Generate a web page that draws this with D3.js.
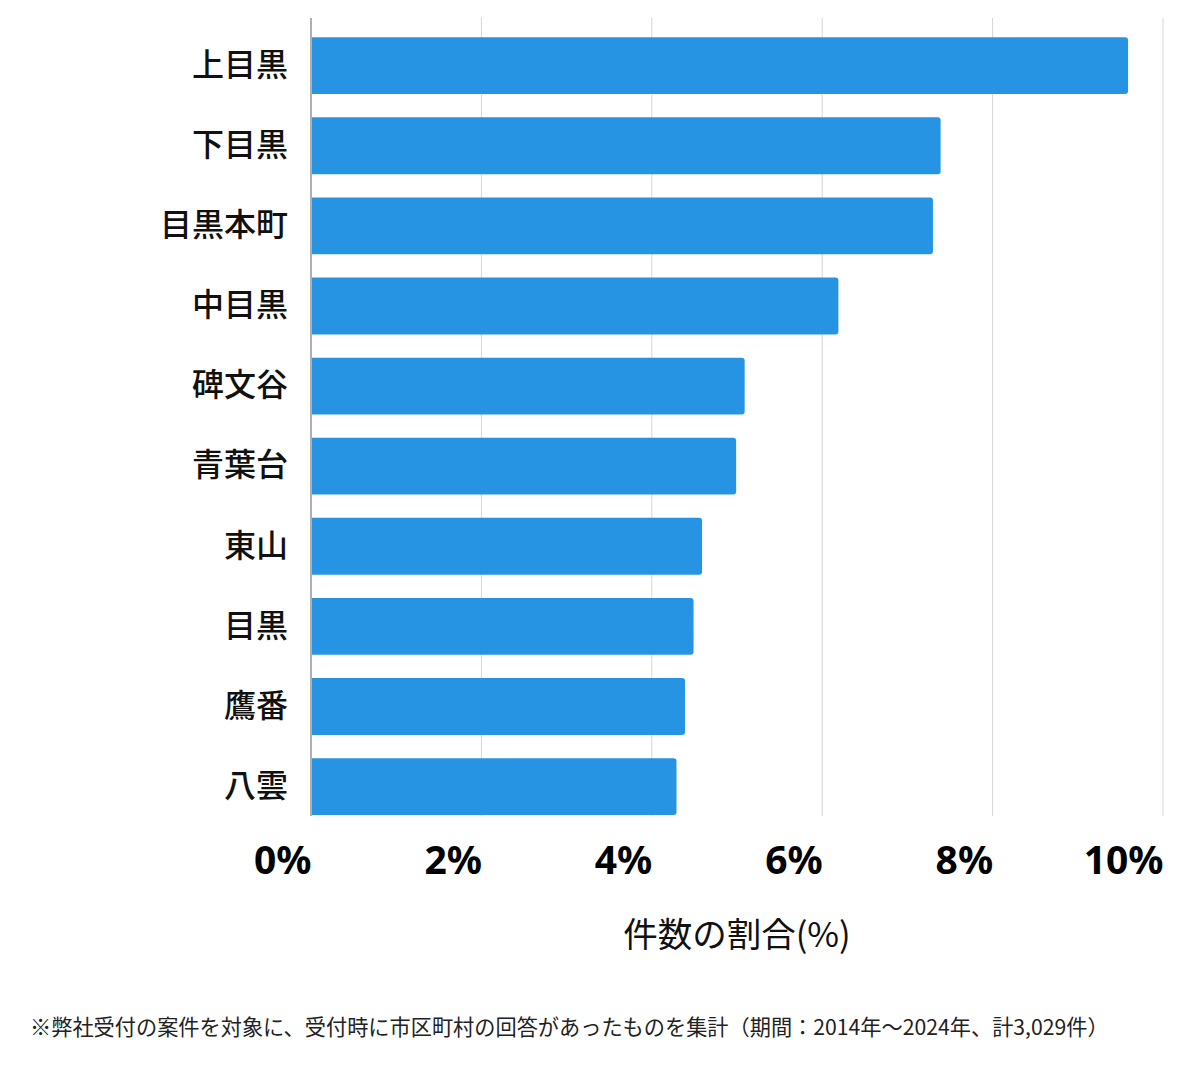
<!DOCTYPE html>
<html>
<head>
<meta charset="utf-8">
<script src="https://cdn.jsdelivr.net/npm/d3@7"></script>
<style>
  body { margin: 0; background: #fff; }
  svg { display: block; font-family: "Noto Sans CJK JP", "Noto Sans", sans-serif; }
</style>
</head>
<body>
<script>

// data //
const areas = ["上目黒", "下目黒", "目黒本町", "中目黒", "碑文谷", "青葉台", "東山", "目黒", "鷹番", "八雲"];
const shares = [9.59, 7.39, 7.30, 6.19, 5.09, 4.99, 4.59, 4.49, 4.39, 4.29];
const xTicks = [0, 2, 4, 6, 8, 10];
const xTitle = "件数の割合(%)";
const note = "※弊社受付の案件を対象に、受付時に市区町村の回答があったものを集計（期間：2014年～2024年、計3,029件）";

const width = 1200;
const height = 1069;
const plot = { left: 311, right: 1163, top: 18, bottom: 815 };

const svg = d3.select("body")
  .append("svg")
  .attr("width", width)
  .attr("height", height);

// scales //
let x = d3.scaleLinear()
  .domain([0, 10])
  .range([plot.left, plot.right]);

let y = d3.scaleBand()
  .domain(areas)
  .range([plot.top, plot.bottom])
  .paddingInner(0.29)
  .paddingOuter(0.12)
  .align(1);

// grid lines //
svg.append("g")
  .selectAll("line")
  .data(xTicks.filter(d => d > 0))
  .join("line")
  .attr("x1", d => x(d))
  .attr("x2", d => x(d))
  .attr("y1", plot.top)
  .attr("y2", plot.bottom + 1)
  .attr("stroke", "#d6d6d6")
  .attr("stroke-width", 1);

// bars (rounded on the right end only) //
const r = 3;
svg.append("g")
  .selectAll("path")
  .data(areas.map((a, i) => ({ area: a, value: shares[i] })))
  .join("path")
  .attr("fill", "#2794e3")
  .attr("d", d => {
    const x0 = x(0), x1 = x(d.value), y0 = y(d.area), y1 = y0 + y.bandwidth();
    return `M${x0},${y0}H${x1 - r}Q${x1},${y0} ${x1},${y0 + r}V${y1 - r}Q${x1},${y1} ${x1 - r},${y1}H${x0}Z`;
  });

// left axis line //
svg.append("line")
  .attr("x1", x(0))
  .attr("x2", x(0))
  .attr("y1", plot.top)
  .attr("y2", plot.bottom + 1)
  .attr("stroke", "#b0b0b0")
  .attr("stroke-width", 2);

// category labels //
const yAxis = svg.append("g")
  .attr("transform", "translate(" + x(0) + ",0)")
  .call(d3.axisLeft(y).tickSize(0).tickPadding(23));
yAxis.select(".domain").remove();
yAxis.selectAll("text")
  .attr("font-size", 32)
  .attr("font-weight", 500)
  .attr("fill", "#111")
  .style("font-family", "'Noto Sans CJK JP', sans-serif");

// x tick labels //
const xAxis = svg.append("g")
  .attr("transform", "translate(0," + plot.bottom + ")")
  .call(d3.axisBottom(x).tickValues(xTicks).tickFormat(d => d + "%").tickSize(0).tickPadding(0));
xAxis.select(".domain").remove();
xAxis.selectAll("text")
  .attr("text-anchor", "end")
  .attr("dy", null)
  .attr("y", 59)
  .attr("font-size", 39)
  .attr("font-weight", 700)
  .attr("fill", "#000")
  .style("font-family", "'Noto Sans', sans-serif");

// axis title //
svg.append("text")
  .attr("x", (plot.left + plot.right) / 2)
  .attr("y", 947)
  .attr("text-anchor", "middle")
  .attr("font-size", 34.5)
  .attr("fill", "#111")
  .text(xTitle);

// footnote //
svg.append("text")
  .attr("x", 30)
  .attr("y", 1035)
  .attr("font-size", 21.2)
  .attr("fill", "#222")
  .text(note);

</script>
</body>
</html>
